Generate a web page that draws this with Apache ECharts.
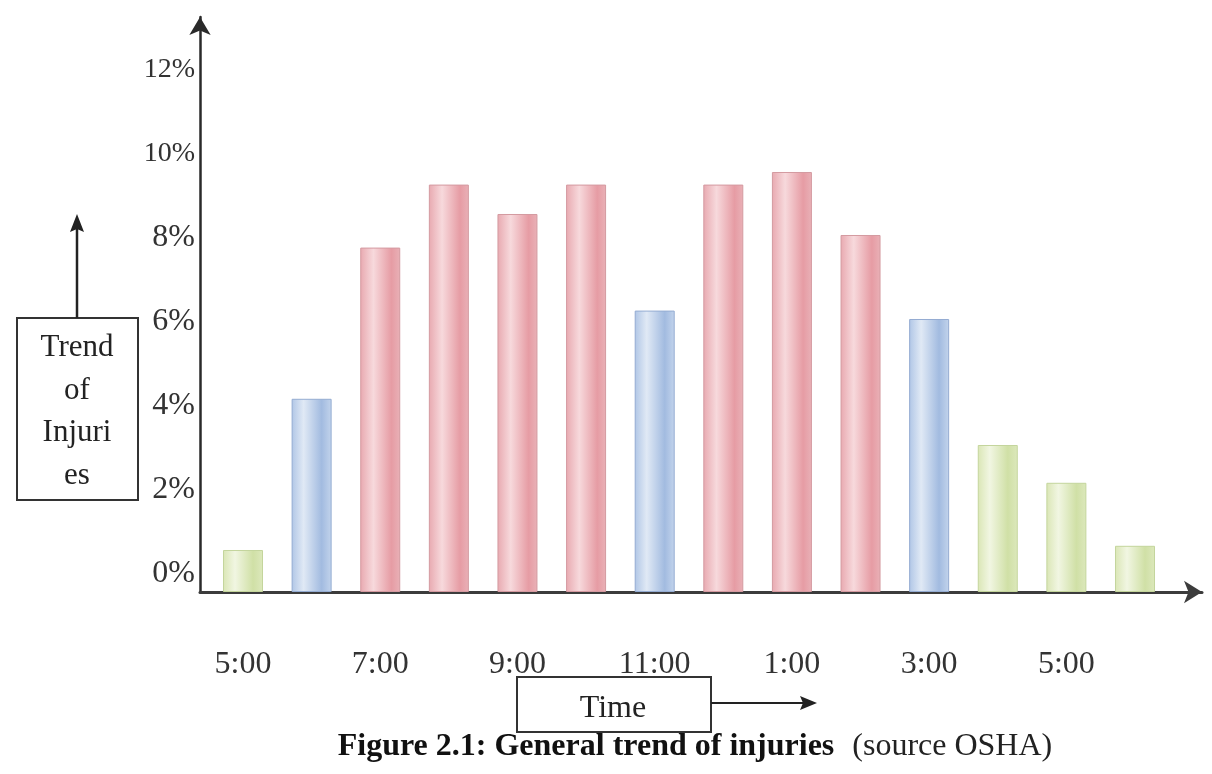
<!DOCTYPE html>
<html>
<head>
<meta charset="utf-8">
<script src="https://cdn.jsdelivr.net/npm/echarts@6/dist/echarts.min.js"></script>
<style>
html,body{margin:0;padding:0;background:#ffffff;}
#chart{width:1212px;height:774px;}
</style>
</head>
<body>
<div id="chart"></div>
<script>
// ---- data ----
const categories = ['5:00','6:00','7:00','8:00','9:00','10:00','11:00','12:00','1:00','2:00','3:00','4:00','5:00','6:00'];
const injuryShare = [1.0, 4.6, 8.2, 9.7, 9.0, 9.7, 6.7, 9.7, 10.0, 8.5, 6.5, 3.5, 2.6, 1.1];
const barGroup = ['low','mid','high','high','high','high','mid','high','high','high','mid','low','low','low'];
const yMax = 13.69;
const yStep = 2;
const yLabelMax = 12;
const yAxisTitle = ['Trend','of','Injuri','es'];
const xAxisTitle = 'Time';
const captionBold = 'Figure 2.1: General trend of injuries';
const captionNormal = '(source OSHA)';

// ---- styles ----
const FONT = '"Liberation Serif","Times New Roman",serif';
const TEXT = '#333333';
function grad(stops){
  return new echarts.graphic.LinearGradient(0,0,1,0, stops.map(s => ({offset:s[0], color:s[1]})));
}
const groupStyle = {
  low:  {stops:[[0,'#dae6b5'],[0.3,'#f1f6e2'],[0.75,'#d0e0a6'],[1,'#dce8bc']], border:'#c4d59c'},
  mid:  {stops:[[0,'#b0c6e6'],[0.3,'#e0e9f5'],[0.75,'#a2bbe0'],[1,'#c3d4ec']], border:'#94acd2'},
  high: {stops:[[0,'#e8a9b0'],[0.33,'#f7d9dc'],[0.78,'#e69ca4'],[1,'#e9b1b7']], border:'#d49aa0'}
};

const chart = echarts.init(document.getElementById('chart'), null, {renderer:'canvas'});

const option = {
  animation: false,
  backgroundColor: '#ffffff',
  grid: [
    {left: 208.7, right: 42.7, top: 17, bottom: 182, outerBoundsMode: 'none'},
    {left: 200, right: 10, top: 17, bottom: 182, outerBoundsMode: 'none'}
  ],
  xAxis: [
    {
      gridIndex: 0, type: 'category', data: categories, boundaryGap: true,
      axisLine: {show: false}, axisTick: {show: false}, splitLine: {show: false},
      axisLabel: {interval: 1, margin: 57, fontFamily: FONT, fontSize: 32, color: TEXT}
    },
    {
      gridIndex: 1, type: 'value', min: 0, max: 1,
      axisLine: {show: true, onZero: false, lineStyle: {color: '#3c3c3c', width: 3},
                 symbol: ['none','arrow'], symbolSize: [17, 18]},
      axisTick: {show: false}, axisLabel: {show: false}, splitLine: {show: false}
    }
  ],
  yAxis: [
    {gridIndex: 0, type: 'value', min: 0, max: yMax, show: false},
    {
      gridIndex: 1, type: 'value', min: 0, max: yMax, interval: yStep,
      axisLine: {show: true, onZero: false, lineStyle: {color: '#2a2a2a', width: 2.5},
                 symbol: ['none','arrow'], symbolSize: [16, 18]},
      axisTick: {show: false}, splitLine: {show: false},
      axisLabel: {
        margin: 5, padding: [0,0,37,0],
        formatter: v => (Math.abs(v % yStep) < 1e-9 && v <= yLabelMax) ? (v >= 10 ? '{s|' + v + '%}' : '{n|' + v + '%}') : '',
        rich: {
          s: {fontFamily: FONT, fontSize: 28, color: TEXT},
          n: {fontFamily: FONT, fontSize: 32, color: TEXT}
        }
      }
    }
  ],
  series: [
    {
      type: 'bar', xAxisIndex: 0, yAxisIndex: 0, barWidth: 40, silent: true,
      data: injuryShare.map((v, i) => ({
        value: v,
        itemStyle: {
          color: grad(groupStyle[barGroup[i]].stops),
          borderColor: groupStyle[barGroup[i]].border,
          borderWidth: 1
        }
      }))
    }
  ],
  graphic: [
    // y-axis title box with arrow
    {type: 'rect', shape: {x: 17, y: 318, width: 121, height: 182},
     style: {fill: 'none', stroke: '#333', lineWidth: 2}},
    {type: 'text', style: {text: yAxisTitle.join('\n'), x: 77, y: 412, align: 'center', verticalAlign: 'middle',
      fontFamily: FONT, fontSize: 31, lineHeight: 42.5, fill: '#222'}},
    {type: 'line', shape: {x1: 77, y1: 318, x2: 77, y2: 228}, style: {stroke: '#222', lineWidth: 2.5}},
    {type: 'polygon', shape: {points: [[77, 214], [70, 232], [77, 229], [84, 232]]}, style: {fill: '#222'}},
    // x-axis title box with arrow
    {type: 'rect', shape: {x: 517, y: 677, width: 194, height: 55},
     style: {fill: 'none', stroke: '#333', lineWidth: 2}},
    {type: 'text', style: {text: xAxisTitle, x: 613, y: 709, align: 'center', verticalAlign: 'middle',
      fontFamily: FONT, fontSize: 32, fill: '#222'}},
    {type: 'line', shape: {x1: 711, y1: 703, x2: 806, y2: 703}, style: {stroke: '#222', lineWidth: 2}},
    {type: 'polygon', shape: {points: [[817, 703], [800, 696], [803, 703], [800, 710]]}, style: {fill: '#222'}},
    // caption
    {type: 'text', style: {
      text: '{b|' + captionBold + ' }{r|' + captionNormal + '}',
      x: 695, y: 747, align: 'center', verticalAlign: 'middle',
      rich: {
        b: {fontFamily: FONT, fontSize: 32, fontWeight: 'bold', fill: '#111'},
        r: {fontFamily: FONT, fontSize: 32, fill: '#222', padding: [0,0,0,10]}
      }
    }}
  ]
};
chart.setOption(option);
</script>
</body>
</html>
